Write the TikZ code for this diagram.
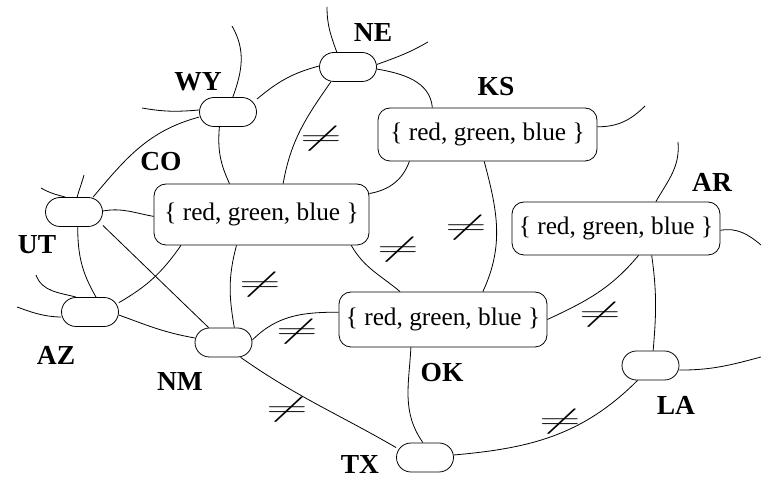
\documentclass[tikz,border=0pt]{standalone}
\usepackage{fontspec}
\setmainfont{Liberation Serif}
\usepackage{graphicx}
\begin{document}
\begin{tikzpicture}[x=1pt,y=1pt,
  capsule/.style={draw, line width=0.8pt, minimum width=57pt, minimum height=29pt, rounded corners=14.5pt, inner sep=0pt},
  dom/.style={draw, line width=0.8pt, rounded corners=12pt, inner sep=0pt, font=\fontsize{25.3}{27}\selectfont},
  lbl/.style={font=\fontsize{27.5}{28}\selectfont\bfseries, inner sep=0pt},
  neqmark/.style={inner sep=0pt, font=\fontsize{24.88}{26}\selectfont},
  conn/.style={line width=0.8pt}]
\useasboundingbox (0,0) rectangle (761,479);
% nodes
\node[capsule] (NE) at (348,412) {};
\node[capsule] (WY) at (228,367) {};
\node[capsule] (UT) at (74,267) {};
\node[capsule] (AZ) at (90,167) {};
\node[capsule] (NM) at (223.5,136.5) {};
\node[capsule] (LA) at (650.5,113.5) {};
\node[capsule] (TX) at (425,21.5) {};
\node[dom, minimum width=215pt, minimum height=61pt] (CO) at (261.5,264.5) {\{ red, green, blue \}};
\node[dom, minimum width=219pt, minimum height=53pt] (KS) at (487.5,344.5) {\{ red, green, blue \}};
\node[dom, minimum width=208pt, minimum height=53pt] (AR) at (616,250.5) {\{ red, green, blue \}};
\node[dom, minimum width=208pt, minimum height=55pt] (OK) at (443,159.5) {\{ red, green, blue \}};
% labels
\node[lbl] (lNE) at (373,446) {NE};
\node[lbl] (lWY) at (198,397) {WY};
\node[lbl] (lKS) at (496,392) {KS};
\node[lbl] (lCO) at (161,317) {CO};
\node[lbl] (lUT) at (37,234) {UT};
\node[lbl] (lAR) at (712,297) {AR};
\node[lbl] (lAZ) at (56,124) {AZ};
\node[lbl] (lNM) at (180,98) {NM};
\node[lbl] (lOK) at (442,106) {OK};
\node[lbl] (lLA) at (676,74) {LA};
\node[lbl] (lTX) at (360,14.5) {TX};
% free ends
\coordinate (ne1) at (327,472);
\coordinate (ne2) at (428,437);
\coordinate (wy1) at (232,453);
\coordinate (wy2) at (142,371);
\coordinate (ut1) at (84,304);
\coordinate (ut2) at (41,291);
\coordinate (az1) at (36,204);
\coordinate (az2) at (17,172);
\coordinate (ks1) at (645,373);
\coordinate (ar1) at (678,337);
\coordinate (ar2) at (761,234);
\coordinate (la1) at (761,122);
% dangling edges
\draw[conn] (NE.127) to[out=110,in=-90] (ne1);
\draw[conn] (NE.5) to[out=20,in=-150] (ne2);
\draw[conn] (WY.72) to[out=70,in=-60] (wy1);
\draw[conn] (WY.176) to[out=185,in=-10] (wy2);
\draw[conn] (UT.78) to[out=75,in=-105] (ut1);
\draw[conn] (UT.120) to[out=165,in=-30] (ut2);
\draw[conn] (AZ.133) to[out=165,in=-70] (az1);
\draw[conn] (AZ.190) to[out=178,in=-20] (az2);
\draw[conn] (KS.4) to[out=0,in=-135] (ks1);
\draw[conn] (AR.34) to[out=60,in=-85] (ar1);
\draw[conn] (AR.-1) to[out=10,in=140] (ar2);
\draw[conn] (LA.-9) to[out=0,in=195] (la1);
% constraint edges
\draw[conn] (NE.-4) to[out=-10,in=95] (KS.154);
\draw[conn] (WY.24) to[out=40,in=195] (NE.178);
\draw[conn] (NE.221) to[out=235,in=80] (CO.55);
\draw[conn] (WY.190) to[out=195,in=50] (UT.38);
\draw[conn] (WY.240) to[out=-95,in=115] (CO.136);
\draw[conn] (UT.2) to[out=10,in=170] (CO.181);
\draw[conn] (UT.-25) -- (NM.135);
\draw[conn] (UT.-76) to[out=-90,in=120] (AZ.68);
\draw[conn] (AZ.18) to[out=30,in=235] (CO.201);
\draw[conn] (AZ.-6) to[out=-20,in=170] (NM.171);
\draw[conn] (CO.231) to[out=-105,in=100] (NM.54);
\draw[conn] (CO.-19) to[out=-60,in=140] (OK.147);
\draw[conn] (CO.11) to[out=10,in=-110] (KS.199);
\draw[conn] (KS.263) to[out=-75,in=65] (OK.35);
\draw[conn] (AR.-50) to[out=-130,in=25] (OK.0);
\draw[conn] (AR.-37) to[out=-82,in=85] (LA.80);
\draw[conn] (LA.229) to[out=-135,in=5] (TX.5);
\draw[conn] (OK.221) to[out=-93,in=125] (TX.98);
\draw[conn] (NM.-41) to[out=-35,in=150] (TX.161);
\draw[conn] (NM.5) to[out=45,in=180] (OK.176);
% not-equal marks
\node[neqmark] (q1) at (321,340) {\scalebox{2.3}[1.1]{$\neq$}};
\node[neqmark] (q2) at (260,194) {\scalebox{2.3}[1.1]{$\neq$}};
\node[neqmark] (q3) at (297,147) {\scalebox{2.3}[1.1]{$\neq$}};
\node[neqmark] (q4) at (287,69) {\scalebox{2.3}[1.1]{$\neq$}};
\node[neqmark] (q5) at (398,229) {\scalebox{2.3}[1.1]{$\neq$}};
\node[neqmark] (q6) at (466,251) {\scalebox{2.3}[1.1]{$\neq$}};
\node[neqmark] (q7) at (600,164) {\scalebox{2.3}[1.1]{$\neq$}};
\node[neqmark] (q8) at (560,57) {\scalebox{2.3}[1.1]{$\neq$}};
\end{tikzpicture}
\end{document}
